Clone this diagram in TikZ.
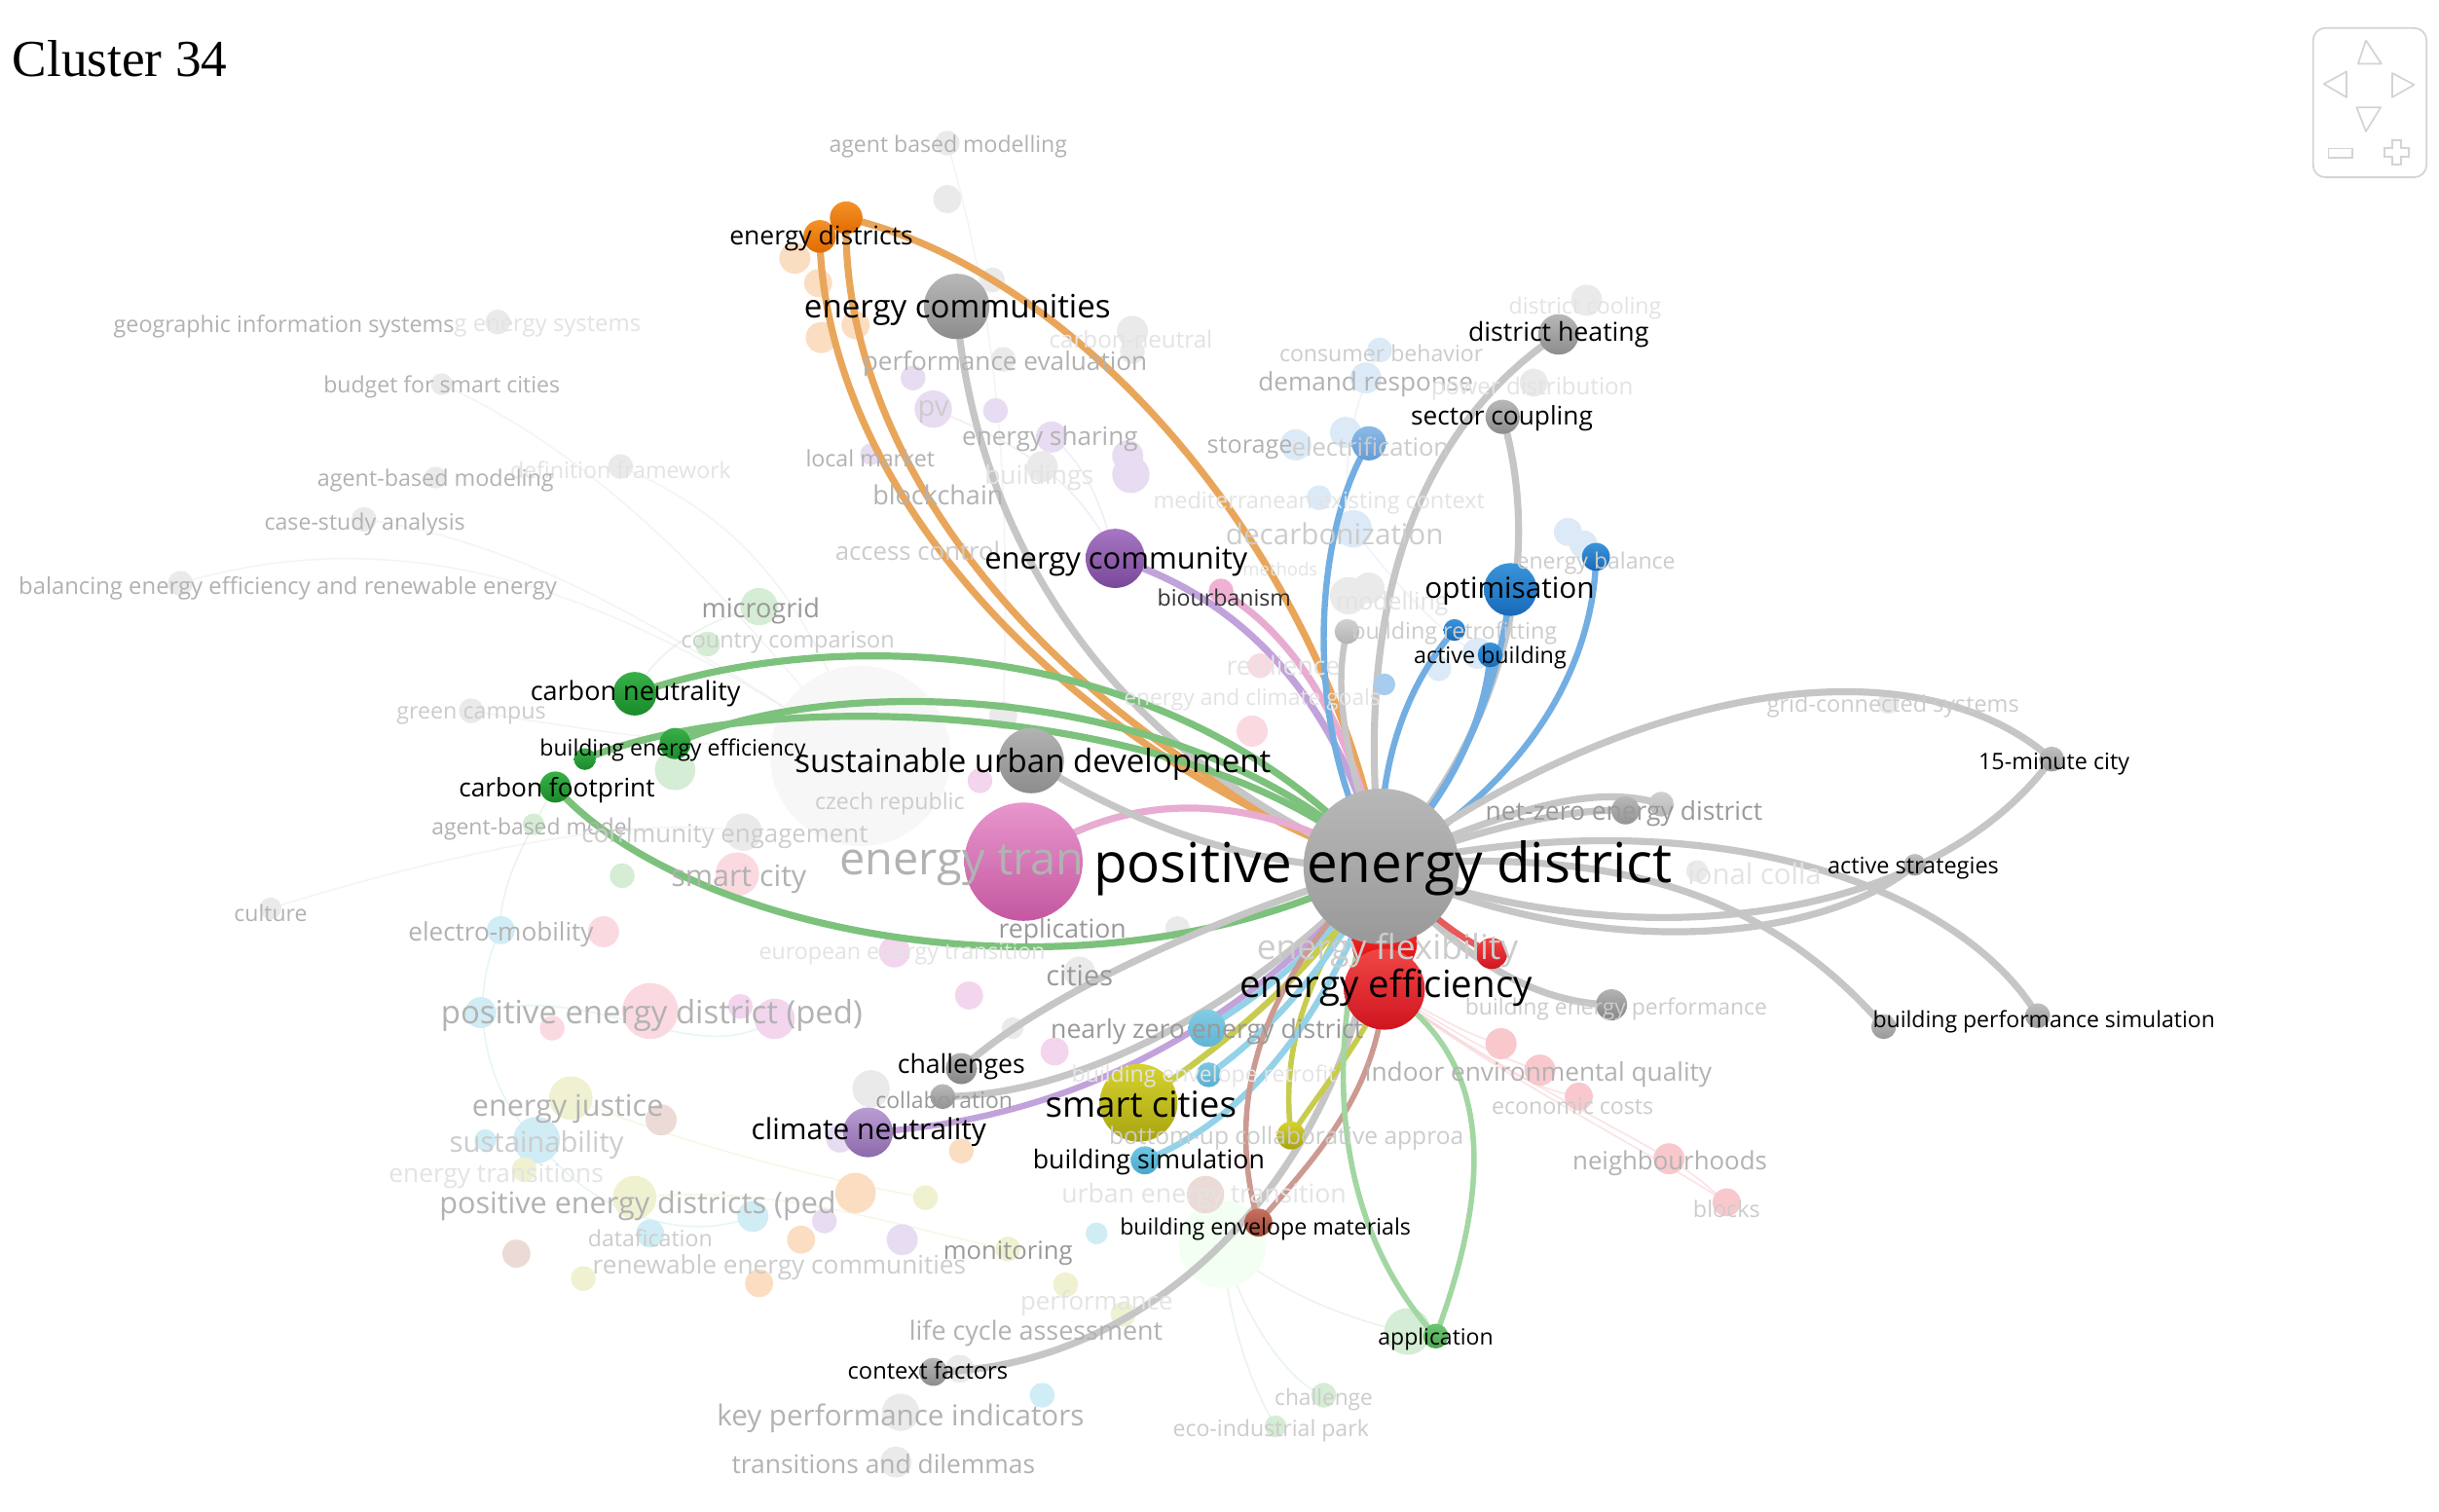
\documentclass[tikz,border=0pt]{standalone}
\usepackage{fontspec}
\newfontfamily\osans{Open Sans}
\newfontfamily\tserif{Liberation Serif}
\newcommand\lb[2]{\resizebox{#1pt}{!}{\osans #2}}
\definecolor{fgrey}{HTML}{EAEAEA}
\definecolor{forange}{HTML}{FBDDC2}
\definecolor{fpurple}{HTML}{E7DCF1}
\definecolor{fblue}{HTML}{DCEAF7}
\definecolor{fgreen}{HTML}{D5ECD5}
\definecolor{fpink}{HTML}{FADAE0}
\definecolor{fmag}{HTML}{F3D5EE}
\definecolor{fcyan}{HTML}{D0ECF5}
\definecolor{fyel}{HTML}{EFF1D0}
\definecolor{fbrown}{HTML}{EBDAD6}
\definecolor{fred}{HTML}{F8C8CC}
\definecolor{lgrey}{HTML}{C6C6C6}
\definecolor{lorange}{HTML}{E9A65A}
\definecolor{lgreen}{HTML}{7CC27C}
\definecolor{lblue}{HTML}{72AEE2}
\definecolor{lpurple}{HTML}{C2A2DA}
\definecolor{lpink}{HTML}{E8ACD2}
\definecolor{lcyan}{HTML}{93D2E8}
\definecolor{lyel}{HTML}{C8CC4E}
\definecolor{lbrown}{HTML}{CC9A90}
\definecolor{lred}{HTML}{E85A5A}
\definecolor{lgreen2}{HTML}{A2D6A2}
\definecolor{navc}{HTML}{D4D4D4}
\begin{document}
\begin{tikzpicture}[x=1pt,y=-1pt,
  lbl/.style={inner sep=0pt, anchor=center, yshift=-2pt},
  dk/.style={lbl, text=black},
  fa/.style={lbl, text=black!40},
  fb/.style={lbl, text=black!30},
  fc/.style={lbl, text=black!20},
  fd/.style={lbl, text=black!11},
  nd/.style={circle, inner sep=0pt, draw=none, minimum size=#1},
  hl/.style={line width=4.5pt, line cap=round},
  fl/.style={line width=1pt, line cap=round}]
\fill[white] (0,0) rectangle (1568,972);
\useasboundingbox (0,0) rectangle (1568,972);

% title
\node[lbl, text=black] (title) at (77,36) {\resizebox{138pt}{!}{\tserif Cluster 34}};

% navigation control
\draw[navc, line width=1.1pt, rounded corners=8pt] (1487,18) rectangle (1560,114);
\draw[navc, line width=1.1pt, line join=round] (1521,26) -- (1516,41) -- (1531,41) -- cycle;
\draw[navc, line width=1.1pt, line join=round] (1494,54) -- (1508.5,46) -- (1508.5,62.5) -- cycle;
\draw[navc, line width=1.1pt, line join=round] (1552,54.5) -- (1538,47) -- (1538,62.5) -- cycle;
\draw[navc, line width=1.1pt, line join=round] (1521,84.5) -- (1515,69) -- (1530.5,69) -- cycle;
\draw[navc, line width=1.1pt] (1497,95.5) rectangle (1512.5,101.2);
\draw[navc, line width=1.1pt] (1538,90.3) -- (1543.8,90.3) -- (1543.8,95.3) -- (1548.7,95.3) -- (1548.7,101) -- (1543.8,101) -- (1543.8,105.9) -- (1538,105.9) -- (1538,101) -- (1533.1,101) -- (1533.1,95.3) -- (1538,95.3) -- cycle;

% coordinates of highlighted items
\coordinate (ped) at (888,557);
\coordinate (etr) at (658,554);
\coordinate (sud) at (663,489);
\coordinate (eef) at (890,636);
\coordinate (efl) at (890,606);
\coordinate (rsm) at (959,613);
\coordinate (ed1) at (527,152);
\coordinate (ed2) at (544,140);
\coordinate (ecs) at (615,197);
\coordinate (dhe) at (1002,215);
\coordinate (sco) at (966,268);
\coordinate (eco) at (717,359);
\coordinate (bio) at (785,380);
\coordinate (opt) at (971,379);
\coordinate (eba) at (1026,358);
\coordinate (bre) at (935,405);
\coordinate (abu) at (958,421);
\coordinate (ele) at (880,285);
\coordinate (mod) at (866,406);
\coordinate (cne) at (408,446);
\coordinate (be1) at (434,478);
\coordinate (be2) at (376,488);
\coordinate (cfp) at (357,506);
\coordinate (fmc) at (1319,488);
\coordinate (ast) at (1231,556);
\coordinate (nz1) at (1045,521);
\coordinate (nz2) at (1068,517);
\coordinate (bp1) at (1211,660);
\coordinate (bp2) at (1310,653);
\coordinate (bep) at (1036,646);
\coordinate (chl) at (618,687);
\coordinate (col) at (606,705);
\coordinate (smc) at (732,709);
\coordinate (sy2) at (830,730);
\coordinate (cln) at (558,728);
\coordinate (bsi) at (736,746);
\coordinate (nze) at (776,661);
\coordinate (cy2) at (777,691);
\coordinate (bem) at (809,786);
\coordinate (app) at (923,859);
\coordinate (ctx) at (600,882);

% faint background links
\begin{scope}[opacity=0.5]
\draw[fl, fgrey] (116,375) .. controls (300,320) and (450,420) .. (553,486);
\draw[fl, fgrey] (234,334) .. controls (350,350) and (450,420) .. (553,486);
\draw[fl, fgrey] (284,247) .. controls (400,300) and (480,400) .. (553,486);
\draw[fl, fgrey] (174,584) .. controls (250,560) and (400,520) .. (478,535);
\draw[fl, fgrey] (303,457) .. controls (380,470) and (450,480) .. (553,486);
\draw[fl, fgrey] (399,300) .. controls (470,330) and (520,380) .. (553,486);
\draw[fl, fgrey] (609,92) .. controls (640,200) and (650,300) .. (645,460);
\draw[fl, fcyan] (322,598) .. controls (300,640) and (310,700) .. (345,733);
\draw[fl, fcyan] (345,733) .. controls (380,780) and (440,800) .. (484,782);
\draw[fl, fcyan] (309,651) .. controls (380,630) and (450,690) .. (498,655);
\draw[fl, fgreen] (408,446) .. controls (420,420) and (450,400) .. (488,390);
\draw[fl, fgreen] (357,506) .. controls (330,550) and (320,580) .. (322,598);
\draw[fl, fgreen] (786,800) .. controls (800,850) and (830,890) .. (851,897);
\draw[fl, fgreen] (786,800) .. controls (820,830) and (870,850) .. (905,856);
\draw[fl, fgreen] (786,800) .. controls (790,860) and (810,900) .. (820,917);
\draw[fl, fpurple] (600,263) .. controls (640,280) and (690,300) .. (717,359);
\draw[fl, fpurple] (676,281) .. controls (700,300) and (710,330) .. (717,359);
\draw[fl, fblue] (870,340) .. controls (900,380) and (930,410) .. (950,420);
\draw[fl, fblue] (887,225) .. controls (870,260) and (860,300) .. (870,340);
\draw[fl, fyel] (367,706) .. controls (450,740) and (540,760) .. (595,770);
\draw[fl, fyel] (408,770) .. controls (500,760) and (580,790) .. (648,803);
\draw[fl, fred] (eef) .. controls (920,650) and (940,665) .. (965,671);
\draw[fl, fred] (eef) .. controls (930,660) and (960,680) .. (990,688);
\draw[fl, fred] (eef) .. controls (940,670) and (980,700) .. (1015,705);
\draw[fl, fred] (eef) .. controls (950,680) and (1030,720) .. (1073,745);
\draw[fl, fred] (eef) .. controls (960,690) and (1060,740) .. (1110,773);
\draw[fl, fred] (1073,745) .. controls (1090,755) and (1100,765) .. (1110,773);
\end{scope}

% faint nodes
\node[nd=116pt, fill=black!3] (bigg) at (553,486) {};
\node[nd=56pt, fill=green!5] (bigG) at (786,800) {};
\foreach \x/\y/\d/\c [count=\i] in {
 609/92/16/fgrey, 609/128/18/fgrey, 320/207/16/fgrey, 284/247/14/fgrey, 399/300/16/fgrey,
 280/307/14/fgrey, 234/334/16/fgrey, 116/375/16/fgrey, 303/457/16/fgrey, 174/584/14/fgrey,
 638/180/16/fgrey, 645/231/16/fgrey, 728/213/20/fgrey, 728/226/16/fgrey, 670/300/20/fgrey,
 867/383/24/fgrey, 880/378/20/fgrey, 645/460/18/fgrey, 478/535/24/fgrey, 560/700/24/fgrey,
 651/661/14/fgrey, 757/597/16/fgrey, 694/625/20/fgrey, 579/908/24/fgrey, 576/940/20/fgrey,
 1020/193/20/fgrey, 986/246/18/fgrey, 1214/452/14/fgrey, 1091/560/14/fgrey, 617/880/18/fgrey,
 511/166/20/forange, 526/182/18/forange, 528/217/20/forange, 550/209/18/forange, 550/767/26/forange,
 515/797/18/forange, 488/825/18/forange, 618/740/16/forange,
 587/243/16/fpurple, 600/263/24/fpurple, 640/264/16/fpurple, 676/281/20/fpurple, 725/293/20/fpurple,
 727/305/24/fpurple, 560/292/14/fpurple, 580/797/20/fpurple, 540/732/18/fpurple, 530/785/16/fpurple,
 833/286/20/fblue, 887/225/16/fblue, 878/243/20/fblue, 865/278/20/fblue, 848/320/16/fblue,
 870/340/24/fblue, 1008/342/18/fblue, 1018/350/18/fblue, 950/420/20/fblue, 925/430/16/fblue,
 488/390/24/fgreen, 455/414/16/fgreen, 434/495/26/fgreen, 400/563/16/fgreen, 343/530/14/fgreen,
 851/897/16/fgreen, 820/917/14/fgreen, 905/856/30/fgreen,
 474/562/28/fpink, 388/599/20/fpink, 418/650/36/fpink, 355/661/16/fpink, 805/470/20/fpink,
 810/428/16/fpink,
 630/502/16/fmag, 498/655/26/fmag, 476/647/16/fmag, 575/612/20/fmag, 623/640/18/fmag, 678/676/18/fmag,
 322/598/18/fcyan, 309/651/20/fcyan, 345/733/30/fcyan, 312/733/14/fcyan, 418/793/18/fcyan,
 484/782/20/fcyan, 705/793/14/fcyan, 670/897/16/fcyan,
 367/706/28/fyel, 408/770/28/fyel, 337/752/16/fyel, 595/770/16/fyel, 648/803/16/fyel,
 685/826/16/fyel, 722/845/16/fyel, 375/822/16/fyel,
 425/720/20/fbrown, 332/806/18/fbrown, 775/768/24/fbrown,
 965/671/20/fred, 990/688/20/fred, 1015/705/18/fred, 1073/745/20/fred, 1110/773/18/fred}
 \node[nd=\d pt, fill=\c] (fn\i) at (\x,\y) {};

% highlighted links
\draw[hl, lorange] (ed1) .. controls (530,300) and (660,470) .. (ped);
\draw[hl, lorange] (ed2) .. controls (540,300) and (680,470) .. (ped);
\draw[hl, lorange] (ed2) .. controls (710,180) and (860,380) .. (ped);
\draw[hl, lgrey] (ecs) .. controls (625,330) and (700,480) .. (ped);
\draw[hl, lgrey] (dhe) .. controls (905,280) and (870,400) .. (ped);
\draw[hl, lgrey] (sco) .. controls (990,350) and (975,460) .. (ped);
\draw[hl, lpurple] (eco) .. controls (800,385) and (860,450) .. (ped);
\draw[hl, lpink] (bio) .. controls (835,410) and (870,470) .. (ped);
\draw[hl, line width=4pt, lblue] (ele) .. controls (845,340) and (835,470) .. (ped);
\draw[hl, line width=4pt, lgrey] (mod) .. controls (855,450) and (870,500) .. (ped);
\draw[hl, line width=4pt, lblue] (opt) .. controls (965,430) and (945,500) .. (ped);
\draw[hl, line width=4pt, lblue] (eba) .. controls (1025,420) and (990,500) .. (ped);
\draw[hl, line width=4pt, lblue] (abu) .. controls (955,460) and (935,510) .. (ped);
\draw[hl, line width=4pt, lblue] (bre) .. controls (905,440) and (885,490) .. (ped);
\draw[hl, lgreen] (cne) .. controls (540,400) and (760,410) .. (ped);
\draw[hl, lgreen] (be1) .. controls (540,430) and (770,440) .. (ped);
\draw[hl, lgreen] (be2) .. controls (490,440) and (770,450) .. (ped);
\draw[hl, lgreen] (cfp) .. controls (440,600) and (700,655) .. (ped);
\draw[hl, lpink] (etr) .. controls (720,510) and (800,505) .. (ped);
\draw[hl, lgrey] (sud) .. controls (720,525) and (800,560) .. (ped);
\draw[hl, lgrey] (ped) .. controls (1050,440) and (1230,410) .. (fmc);
\draw[hl, lgrey] (fmc) .. controls (1245,590) and (1060,620) .. (ped);
\draw[hl, lgrey] (ast) .. controls (1180,600) and (1040,625) .. (ped);
\draw[hl, lgrey] (ped) .. controls (1100,510) and (1260,570) .. (bp2);
\draw[hl, lgrey] (ped) .. controls (1060,540) and (1150,590) .. (bp1);
\draw[hl, lgrey] (ped) .. controls (960,530) and (1010,520) .. (nz1);
\draw[hl, lgrey] (ped) .. controls (980,515) and (1030,505) .. (nz2);
\draw[hl, lgrey] (ped) .. controls (940,620) and (990,645) .. (bep);
\draw[hl, lgrey] (chl) .. controls (670,640) and (780,590) .. (ped);
\draw[hl, lgrey] (col) .. controls (690,705) and (800,650) .. (ped);
\draw[hl, lgrey] (ctx) .. controls (750,880) and (880,740) .. (ped);
\draw[hl, line width=4pt, lpurple] (cln) .. controls (690,720) and (800,660) .. (ped);
\draw[hl, line width=4pt, lyel] (smc) .. controls (790,670) and (845,625) .. (ped);
\draw[hl, line width=3.5pt, lyel] (sy2) .. controls (824,680) and (835,630) .. (ped);
\draw[hl, line width=3.5pt, lyel] (sy2) .. controls (850,700) and (875,670) .. (eef);
\draw[hl, line width=4pt, lcyan] (bsi) .. controls (800,720) and (850,660) .. (ped);
\draw[hl, line width=4pt, lcyan] (nze) .. controls (810,640) and (850,610) .. (ped);
\draw[hl, line width=4pt, lcyan] (cy2) .. controls (820,660) and (855,620) .. (ped);
\draw[hl, line width=3.5pt, lbrown] (bem) .. controls (790,720) and (800,640) .. (ped);
\draw[hl, line width=3.5pt, lbrown] (bem) .. controls (850,740) and (885,700) .. (eef);
\draw[hl, line width=3.5pt, lgreen2] (app) .. controls (860,790) and (845,680) .. (ped);
\draw[hl, line width=3.5pt, lgreen2] (app) .. controls (960,760) and (960,680) .. (eef);
\draw[hl, line width=4pt, lred] (ped) .. controls (930,600) and (945,605) .. (rsm);

% highlighted nodes
\node[nd=42pt, top color=red!75, bottom color=red!85!black] (Nefl) at (efl) {};
\node[nd=100pt, top color=black!28, bottom color=black!40] (Nped) at (ped) {};
\node[nd=76pt, top color={rgb,255:red,232;green,150;blue,205}, bottom color={rgb,255:red,196;green,88;blue,160}] (Netr) at (etr) {};
\node[nd=42pt, top color=black!30, bottom color=black!45] (Nsud) at (sud) {};
\node[nd=52pt, top color={rgb,255:red,240;green,70;blue,70}, bottom color={rgb,255:red,208;green,20;blue,30}] (Neef) at (eef) {};
\node[nd=20pt, top color={rgb,255:red,240;green,70;blue,70}, bottom color={rgb,255:red,208;green,20;blue,30}] (Nrsm) at (rsm) {};
\node[nd=21pt, top color={rgb,255:red,244;green,146;blue,40}, bottom color={rgb,255:red,226;green,106;blue,0}] (Ned1) at (ed1) {};
\node[nd=21pt, top color={rgb,255:red,244;green,146;blue,40}, bottom color={rgb,255:red,226;green,106;blue,0}] (Ned2) at (ed2) {};
\node[nd=42pt, top color=black!28, bottom color=black!45] (Necs) at (ecs) {};
\node[nd=26pt, top color=black!28, bottom color=black!45] (Ndhe) at (dhe) {};
\node[nd=22pt, top color=black!28, bottom color=black!45] (Nsco) at (sco) {};
\node[nd=38pt, top color={rgb,255:red,166;green,118;blue,196}, bottom color={rgb,255:red,122;green,72;blue,152}] (Neco) at (eco) {};
\node[nd=16pt, fill={rgb,255:red,240;green,178;blue,212}] (Nbio) at (bio) {};
\node[nd=34pt, top color={rgb,255:red,58;green,148;blue,218}, bottom color={rgb,255:red,24;green,106;blue,184}] (Nopt) at (opt) {};
\node[nd=18pt, top color={rgb,255:red,58;green,148;blue,218}, bottom color={rgb,255:red,24;green,106;blue,184}] (Neba) at (eba) {};
\node[nd=14pt, top color={rgb,255:red,58;green,148;blue,218}, bottom color={rgb,255:red,24;green,106;blue,184}] (Nbre) at (bre) {};
\node[nd=16pt, top color={rgb,255:red,58;green,148;blue,218}, bottom color={rgb,255:red,24;green,106;blue,184}] (Nabu) at (abu) {};
\node[nd=14pt, fill={rgb,255:red,168;green,204;blue,237}] (Nlb) at (890,440) {};
\node[nd=22pt, top color={rgb,255:red,140;green,186;blue,232}, bottom color={rgb,255:red,100;green,156;blue,214}] (Nele) at (ele) {};
\node[nd=16pt, top color=black!18, bottom color=black!30] (Nmod) at (mod) {};
\node[nd=28pt, top color={rgb,255:red,56;green,176;blue,72}, bottom color={rgb,255:red,26;green,138;blue,42}] (Ncne) at (cne) {};
\node[nd=20pt, top color={rgb,255:red,56;green,176;blue,72}, bottom color={rgb,255:red,26;green,138;blue,42}] (Nbe1) at (be1) {};
\node[nd=14pt, top color={rgb,255:red,56;green,176;blue,72}, bottom color={rgb,255:red,26;green,138;blue,42}] (Nbe2) at (be2) {};
\node[nd=20pt, top color={rgb,255:red,56;green,176;blue,72}, bottom color={rgb,255:red,26;green,138;blue,42}] (Ncfp) at (cfp) {};
\node[nd=16pt, top color=black!25, bottom color=black!40] (Nfmc) at (fmc) {};
\node[nd=14pt, top color=black!25, bottom color=black!40] (Nast) at (ast) {};
\node[nd=18pt, top color=black!28, bottom color=black!42] (Nnz1) at (nz1) {};
\node[nd=16pt, top color=black!18, bottom color=black!28] (Nnz2) at (nz2) {};
\node[nd=16pt, top color=black!25, bottom color=black!40] (Nbp1) at (bp1) {};
\node[nd=16pt, top color=black!25, bottom color=black!40] (Nbp2) at (bp2) {};
\node[nd=20pt, top color=black!30, bottom color=black!48] (Nbep) at (bep) {};
\node[nd=20pt, top color=black!30, bottom color=black!48] (Nchl) at (chl) {};
\node[nd=16pt, top color=black!28, bottom color=black!42] (Ncol) at (col) {};
\node[nd=50pt, top color={rgb,255:red,214;green,210;blue,48}, bottom color={rgb,255:red,168;green,164;blue,16}] (Nsmc) at (smc) {};
\node[nd=18pt, top color={rgb,255:red,214;green,210;blue,48}, bottom color={rgb,255:red,168;green,164;blue,16}] (Nsy2) at (sy2) {};
\node[nd=32pt, top color={rgb,255:red,186;green,156;blue,212}, bottom color={rgb,255:red,140;green,106;blue,170}] (Ncln) at (cln) {};
\node[nd=18pt, top color={rgb,255:red,112;green,200;blue,226}, bottom color={rgb,255:red,72;green,168;blue,204}] (Nbsi) at (bsi) {};
\node[nd=24pt, top color={rgb,255:red,130;green,204;blue,228}, bottom color={rgb,255:red,96;green,180;blue,212}] (Nnze) at (nze) {};
\node[nd=16pt, top color={rgb,255:red,120;green,200;blue,226}, bottom color={rgb,255:red,90;green,176;blue,210}] (Ncy2) at (cy2) {};
\node[nd=18pt, top color={rgb,255:red,200;green,112;blue,96}, bottom color={rgb,255:red,160;green,72;blue,56}] (Nbem) at (bem) {};
\node[nd=16pt, top color={rgb,255:red,110;green,196;blue,112}, bottom color={rgb,255:red,76;green,168;blue,80}] (Napp) at (app) {};
\node[nd=18pt, top color=black!28, bottom color=black!45] (Nctx) at (ctx) {};

% faded labels
\node[fb] (t01) at (609.5,92) {\lb{153}{agent based modelling}};
\node[fb] (t02) at (182.5,208) {\lb{219}{geographic information systems}};
\node[fd] (t03) at (352,208) {\lb{120}{g energy systems}};
\node[fb] (t04) at (284,247) {\lb{152}{budget for smart cities}};
\node[fd] (t05) at (399,300) {\lb{142}{definition framework}};
\node[fb] (t06) at (280,307) {\lb{152}{agent-based modeling}};
\node[fb] (t07) at (234.5,335) {\lb{129}{case-study analysis}};
\node[fb] (t08) at (185,376) {\lb{346}{balancing energy efficiency and renewable energy}};
\node[fa] (t09) at (489,391) {\lb{76}{microgrid}};
\node[fc] (t10) at (506.5,411) {\lb{137}{country comparison}};
\node[fc] (t11) at (303,458) {\lb{96}{green campus}};
\node[fb] (t12) at (342,531) {\lb{129}{agent-based model}};
\node[fc] (t13) at (466,536) {\lb{184}{community engagement}};
\node[fc] (t14) at (572,515) {\lb{96}{czech republic}};
\node[fb] (t15) at (618.5,554) {\lb{157}{energy tran}};
\node[fb] (t16) at (475,563) {\lb{87}{smart city}};
\node[fb] (t17) at (174,585) {\lb{47}{culture}};
\node[fb] (t18) at (322,599) {\lb{119}{electro-mobility}};
\node[fd] (t19) at (580,611) {\lb{184}{european energy transition}};
\node[fa] (t20) at (683,597) {\lb{82}{replication}};
\node[fa] (t21) at (694,625) {\lb{43}{cities}};
\node[fc] (t22) at (892,609) {\lb{168}{energy flexibility}};
\node[fb] (t23) at (419,651) {\lb{271}{positive energy district (ped)}};
\node[fa] (t24) at (776,661) {\lb{201}{nearly zero energy district}};
\node[fc] (t25) at (1039,647) {\lb{194}{building energy performance}};
\node[fb] (t26) at (989,689) {\lb{223}{indoor environmental quality}};
\node[fc] (t27) at (1011,709) {\lb{104}{economic costs}};
\node[fd] (t28) at (774,690) {\lb{170}{building envelope retrofit}};
\node[fa] (t29) at (607,705) {\lb{88}{collaboration}};
\node[fb] (t30) at (365,711) {\lb{123}{energy justice}};
\node[fc] (t31) at (345,734) {\lb{112}{sustainability}};
\node[fd] (t32) at (319,754) {\lb{138}{energy transitions}};
\node[fc] (t33) at (827,730) {\lb{228}{bottom-up collaborative approa}};
\node[fb] (t34) at (410,773) {\lb{255}{positive energy districts (ped}};
\node[fd] (t35) at (774,767) {\lb{183}{urban energy transition}};
\node[fc] (t36) at (418,794) {\lb{80}{datafication}};
\node[fa] (t37) at (648,804) {\lb{83}{monitoring}};
\node[fc] (t38) at (501,813) {\lb{240}{renewable energy communities}};
\node[fd] (t39) at (705,836) {\lb{98}{performance}};
\node[fb] (t40) at (666,855) {\lb{163}{life cycle assessment}};
\node[fb] (t41) at (1073.5,746) {\lb{125}{neighbourhoods}};
\node[fc] (t42) at (1110,775) {\lb{43}{blocks}};
\node[fb] (t43) at (579,910) {\lb{236}{key performance indicators}};
\node[fb] (t44) at (568,939) {\lb{195}{transitions and dilemmas}};
\node[fc] (t45) at (851,898) {\lb{63}{challenge}};
\node[fc] (t46) at (817,918) {\lb{126}{eco-industrial park}};
\node[fc] (t47) at (1217,452) {\lb{162}{grid-connected systems}};
\node[fa] (t48) at (1044,521) {\lb{178}{net-zero energy district}};
\node[fd] (t49) at (1128,560) {\lb{86}{ional colla}};
\node[fc] (t50) at (888,225) {\lb{131}{consumer behavior}};
\node[fb] (t51) at (878,245) {\lb{138}{demand response}};
\node[fd] (t52) at (985,248) {\lb{130}{power distribution}};
\node[fd] (t53) at (1019,196) {\lb{98}{district cooling}};
\node[fd] (t54) at (727,216) {\lb{105}{carbon-neutral}};
\node[fb] (t55) at (646,232) {\lb{183}{performance evaluation}};
\node[fc] (t56) at (600,263) {\lb{20}{pv}};
\node[fb] (t57) at (675,280) {\lb{113}{energy sharing}};
\node[fd] (t58) at (668,305) {\lb{70}{buildings}};
\node[fb] (t59) at (559.5,293) {\lb{83}{local market}};
\node[fb] (t60) at (603,316) {\lb{84}{blockchain}};
\node[fb] (t61) at (803.5,286) {\lb{55}{storage}};
\node[fc] (t62) at (881,285) {\lb{101}{electrification}};
\node[fd] (t63) at (848,321) {\lb{213}{mediterranean existing context}};
\node[fc] (t64) at (858,341) {\lb{140}{decarbonization}};
\node[fc] (t65) at (590,352) {\lb{106}{access control}};
\node[fd] (t66) at (823,364) {\lb{48}{methods}};
\node[fd] (t67) at (895,386) {\lb{72}{modelling}};
\node[fc] (t68) at (935,405) {\lb{132}{building retrofitting}};
\node[fd] (t69) at (825,426) {\lb{73}{resilience}};
\node[fd] (t70) at (805,448) {\lb{165}{energy and climate goals}};
\node[fc] (t71) at (1026,360) {\lb{102}{energy balance}};

% highlighted labels
\node[dk] (Lped) at (889,556) {\lb{372}{positive energy district}};
\node[dk] (Led) at (528,151) {\lb{118}{energy districts}};
\node[dk] (Lecs) at (615.5,197) {\lb{197}{energy communities}};
\node[dk] (Ldhe) at (1002,213) {\lb{116}{district heating}};
\node[dk] (Lsco) at (965.5,267) {\lb{117}{sector coupling}};
\node[dk] (Leco) at (717.5,359) {\lb{169}{energy community}};
\node[lbl, text=black!80] (Lbio) at (787,382) {\lb{86}{biourbanism}};
\node[dk] (Lopt) at (970.5,378) {\lb{109}{optimisation}};
\node[dk] (Labu) at (958,421) {\lb{98}{active building}};
\node[dk] (Lcne) at (408.5,444) {\lb{135}{carbon neutrality}};
\node[dk] (Lbee) at (432.5,480) {\lb{171}{building energy efficiency}};
\node[dk] (Lcfp) at (358,506) {\lb{126}{carbon footprint}};
\node[dk] (Lsud) at (664,489) {\lb{306}{sustainable urban development}};
\node[dk] (Lfmc) at (1320.5,489) {\lb{97}{15-minute city}};
\node[dk] (Last) at (1230,556) {\lb{110}{active strategies}};
\node[dk] (Leef) at (891,633) {\lb{188}{energy efficiency}};
\node[dk] (Lbps) at (1314,655) {\lb{220}{building performance simulation}};
\node[dk] (Lchl) at (618,684) {\lb{82}{challenges}};
\node[dk] (Lsmc) at (733.5,708) {\lb{123}{smart cities}};
\node[dk] (Lcln) at (558.5,726) {\lb{151}{climate neutrality}};
\node[dk] (Lbsi) at (738.5,745) {\lb{149}{building simulation}};
\node[dk] (Lbem) at (813.5,788) {\lb{187}{building envelope materials}};
\node[dk] (Lapp) at (923,859) {\lb{74}{application}};
\node[dk] (Lctx) at (596.5,879) {\lb{103}{context factors}};
\end{tikzpicture}
\end{document}
